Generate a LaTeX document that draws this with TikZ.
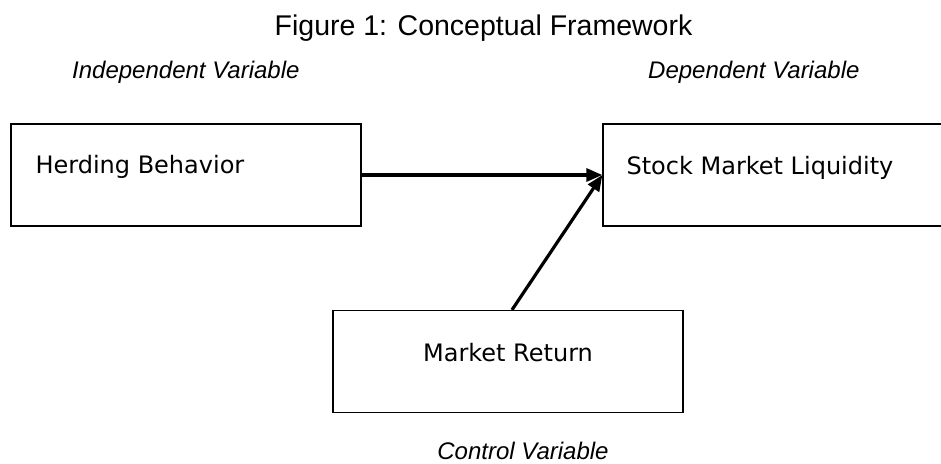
\documentclass[tikz,border=0pt]{standalone}
\usepackage{fontspec}
\setmainfont{Liberation Sans}
\newfontfamily\boxfont{DejaVu Sans}
\usetikzlibrary{arrows.meta, positioning, calc}

\begin{document}
\begin{tikzpicture}[x=1pt,y=-1pt,
    varbox/.style={draw, rectangle, line width=1.3pt, minimum width=350pt, minimum height=102pt},
    boxtext/.style={font=\boxfont\fontsize{24}{28}\selectfont},
    role/.style={font=\fontsize{24}{28}\selectfont\itshape, inner sep=0pt},
    flow/.style={-{Triangle[length=16pt,width=13pt]}, line width=3.2pt}]
    \useasboundingbox (0,0) rectangle (941,463);
    \node[font=\fontsize{28.5}{34}\selectfont, anchor=base] (title) at (483.5,35) {Figure 1: Conceptual Framework};
    \node[role, anchor=base west] (indeplbl) at (72,78) {Independent Variable};
    \node[role, anchor=base west] (deplbl) at (648,78) {Dependent Variable};
    \node[varbox] (indep) at (186,175) {};
    \node[varbox] (dep) at (778,175) {};
    \node[varbox] (ctrl) at (508,361.5) {};
    \node[boxtext, anchor=base west] (indeptxt) at (32,173) {Herding Behavior};
    \node[boxtext, anchor=base west] (deptxt) at (623,174) {Stock Market Liquidity};
    \node[boxtext, anchor=base] (ctrltxt) at (508,361) {Market Return};
    \node[role, anchor=base] (ctrllbl) at (523,459) {Control Variable};
    \draw[flow] (indep.east) -- (dep.west);
    \draw[flow] ($(ctrl.north)+(4,0)$) -- (dep.west);
\end{tikzpicture}
\end{document}
